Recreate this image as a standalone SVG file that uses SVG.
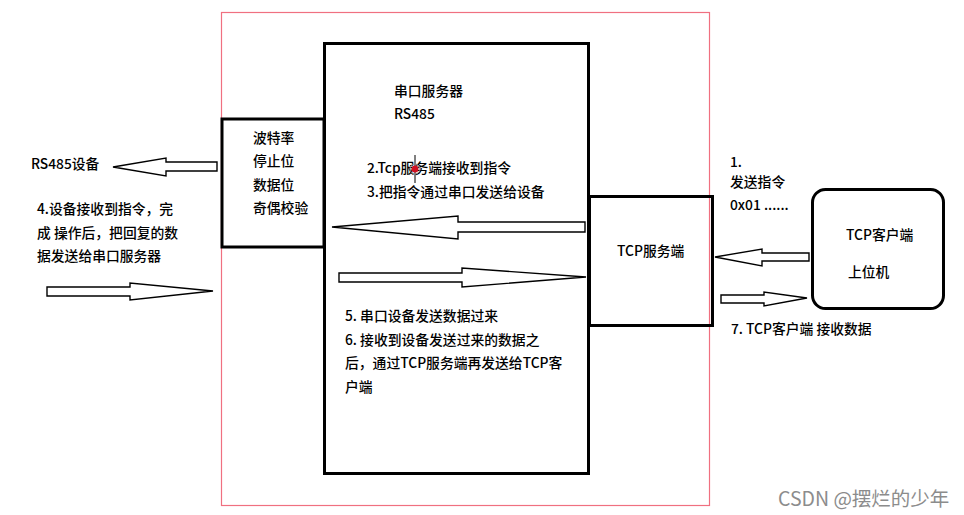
<svg xmlns="http://www.w3.org/2000/svg" width="964" height="515" viewBox="0 0 964 515">
<style>
.t{font-family:"Noto Sans CJK SC","Noto Sans",sans-serif;font-size:13.8px;font-weight:500;fill:#000}
.box{fill:none;stroke:#000;stroke-width:3}
.arr{fill:#fff;stroke:#000;stroke-width:1.4;stroke-linejoin:miter}
</style>
<rect width="964" height="515" fill="#fff"/>
<g id="frame"><rect x="221.5" y="12.5" width="488" height="493" fill="none" stroke="#f07080" stroke-width="1.2"/></g>
<g id="serial-params"><rect class="box" x="222" y="119" width="102" height="128"/>
<text class="t" x="253" y="143">波特率</text>
<text class="t" x="253" y="166">停止位</text>
<text class="t" x="253" y="190">数据位</text>
<text class="t" x="253" y="213">奇偶校验</text></g>
<g id="serial-server"><rect class="box" x="324.5" y="43.5" width="264" height="430"/>
<text class="t" x="394" y="96">串口服务器</text>
<text class="t" x="394" y="119">RS485</text>
<text class="t" x="367" y="173">2.Tcp服务端接收到指令</text>
<text class="t" x="367" y="197">3.把指令通过串口发送给设备</text>
<text class="t" x="345" y="321">5. 串口设备发送数据过来</text>
<text class="t" x="345" y="345">6. 接收到设备发送过来的数据之</text>
<text class="t" x="345" y="368">后，通过TCP服务端再发送给TCP客</text>
<text class="t" x="345" y="392">户端</text></g>
<g id="cursor"><line x1="415" y1="155" x2="415" y2="183" stroke="#000" stroke-width="1"/><circle cx="415" cy="169" r="5" fill="none" stroke="#888" stroke-width="1"/><circle cx="415" cy="169" r="3.5" fill="#d01020"/></g>
<g id="tcp-server"><rect class="box" x="589.5" y="196.5" width="123" height="129"/>
<text class="t" x="617" y="256">TCP服务端</text></g>
<g id="tcp-client"><rect class="box" x="812.5" y="189.5" width="131" height="119" rx="13"/>
<text class="t" x="846" y="240">TCP客户端</text>
<text class="t" x="848" y="277">上位机</text></g>
<g id="rs485-device"><text class="t" x="31" y="169">RS485设备</text>
<text class="t" x="37" y="214">4.设备接收到指令，完</text>
<text class="t" x="37" y="238">成 操作后，把回复的数</text>
<text class="t" x="37" y="261">据发送给串口服务器</text></g>
<g id="labels"><text class="t" x="730" y="167">1.</text>
<text class="t" x="730" y="187">发送指令</text>
<text class="t" x="730" y="210">0x01 ......</text>
<text class="t" x="731" y="334">7. TCP客户端 接收数据</text></g>
<g id="connectors">
<polygon class="arr" points="217,162 166,162 166,158 113,167 166,176 166,171 217,171"/>
<polygon class="arr" points="47,287 130,287 130,283 213,291 130,300 130,296 47,296"/>
<polygon class="arr" points="585,222 458,222 458,216 332,227 458,239 458,232 585,232"/>
<polygon class="arr" points="339,273 462,273 462,268 586,277 462,287 462,282 339,282"/>
<polygon class="arr" points="809,253 762,253 762,249 715,257 762,266 762,261 809,261"/>
<polygon class="arr" points="721,295 764,295 764,292 807,298 764,306 764,303 721,303"/>
</g>
<g id="watermark"><text x="778" y="506" style="font-family:'Noto Sans CJK SC','Noto Sans',sans-serif;font-size:19.5px;fill:#8c8c8c">CSDN @摆烂的少年</text></g>
</svg>
